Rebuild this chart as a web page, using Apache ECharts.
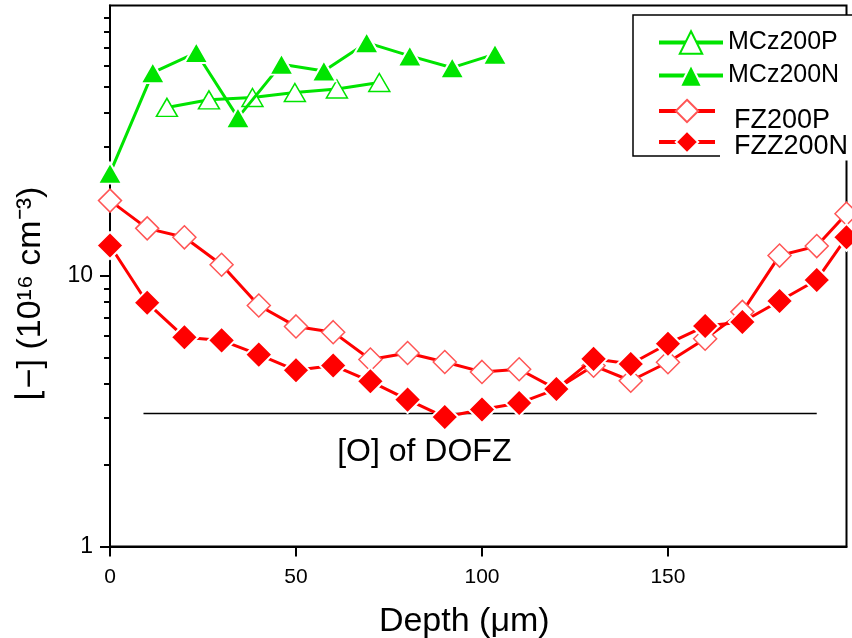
<!DOCTYPE html>
<html><head><meta charset="utf-8">
<script src="https://cdn.jsdelivr.net/npm/echarts@6/dist/echarts.min.js"></script>
<style>html,body{margin:0;padding:0;background:#fff}#c{width:852px;height:638px}</style>
</head><body><div id="c"></div>
<script>
// ---- data ----
const mczPDepth = [15.3, 26.6, 38.3, 49.7, 61.0, 72.4];
const mczPConc  = [42.0, 44.8, 45.7, 47.7, 49.1, 51.9];
const mczNDepth = [0, 11.5, 23.2, 34.4, 46.1, 57.5, 69.0, 80.6, 92.0, 103.5];
const mczNConc  = [24.0, 56.5, 67.0, 38.5, 60.7, 57.3, 72.9, 65.1, 58.9, 66.1];
const fzDepth   = [0, 10, 20, 30, 40, 50, 60, 70, 80, 90, 100, 110, 120, 130, 140, 150, 160, 170, 180, 190, 198];
const fz200P    = [19.0, 15.0, 13.9, 11.0, 7.78, 6.51, 6.20, 4.91, 5.19, 4.81, 4.42, 4.52, 3.82, 4.66, 4.10, 4.80, 5.86, 7.37, 11.9, 12.9, 17.0];
const fzz200N   = [12.96, 7.96, 5.94, 5.78, 5.12, 4.48, 4.67, 4.08, 3.49, 3.01, 3.21, 3.39, 3.82, 4.94, 4.73, 5.62, 6.53, 6.76, 8.08, 9.67, 13.9];
const dofzDepth = [9, 190];
const dofzLevel = 3.1;
const dofzLabelDepth = 84.5;
const xTickValues = [0, 50, 100, 150];
const yMajorTicks = [1, 10];
const yMinorTicks = [2, 3, 4, 5, 6, 7, 8, 9, 20, 30, 40, 50, 60, 70, 80, 90];
const seriesNames = ['MCz200P', 'MCz200N', 'FZ200P', 'FZZ200N'];

const zip = (a, b) => a.map((v, i) => [v, b[i]]);
const FONT = '"Liberation Sans", Arial, sans-serif';
const GREEN = '#00e400', RED = '#ff0000';

const fzText = (spacer) => ({
  fontSize: 27, color: '#000', fontFamily: FONT,
  rich: {
    s: { fontSize: 8, lineHeight: spacer },
    t: { fontSize: 27, lineHeight: 28, color: '#000', fontFamily: FONT, backgroundColor: '#fff', padding: [0, 8, 0, 14] }
  }
});

const chart = echarts.init(document.getElementById('c'));
chart.setOption({
  animation: false,
  backgroundColor: '#fff',
  grid: { left: 110, right: 5.5, top: 5.5, bottom: 91.5, show: true, borderColor: '#000', borderWidth: 2, outerBoundsMode: 'none', containLabel: false },
  xAxis: {
    type: 'value', min: 0, max: 198, interval: 50,
    axisLine: { lineStyle: { color: '#000', width: 2 } },
    axisTick: { customValues: xTickValues, length: 10, lineStyle: { color: '#000', width: 2 } },
    axisLabel: { customValues: xTickValues, margin: 20, fontSize: 21, color: '#000', fontFamily: FONT },
    splitLine: { show: false },
    name: 'Depth (μm)', nameLocation: 'middle', nameGap: 58,
    nameTextStyle: { fontSize: 34, color: '#000', fontFamily: FONT, padding: [0, 28, 0, 0] }
  },
  yAxis: [{
    type: 'log', logBase: 10, min: 1, max: 100,
    axisLine: { lineStyle: { color: '#000', width: 2 } },
    axisTick: { customValues: yMajorTicks, length: 10, lineStyle: { color: '#000', width: 2 } },
    axisLabel: { customValues: yMajorTicks, margin: 17, fontSize: 23, color: '#000', fontFamily: FONT },
    splitLine: { show: false },
    name: '⌊−] (10¹⁶ cm⁻³)', nameLocation: 'middle', nameGap: 62,
    nameTextStyle: { fontSize: 34, color: '#000', fontFamily: FONT, padding: [0, 36, 0, 0] }
  }, {
    type: 'log', logBase: 10, min: 1, max: 100, position: 'left',
    axisLine: { show: false },
    axisTick: { customValues: yMinorTicks, length: 6, lineStyle: { color: '#000', width: 2 } },
    axisLabel: { show: false },
    splitLine: { show: false }
  }],
  legend: [{
    data: [seriesNames[0], seriesNames[1]], orient: 'vertical', left: 657, top: 30, padding: 0,
    itemWidth: 64, itemHeight: 28, itemGap: 8, selectedMode: false, z: 20,
    lineStyle: { width: 4 },
    textStyle: { fontSize: 25, color: '#000', fontFamily: FONT }
  }, {
    data: [seriesNames[2]], orient: 'vertical', left: 657, top: 93, padding: 0,
    itemWidth: 56, itemHeight: 28, selectedMode: false, z: 20,
    lineStyle: { width: 4 },
    formatter: '{s| }\n{t|{name}}',
    textStyle: fzText(20)
  }, {
    data: [seriesNames[3]], orient: 'vertical', left: 657, top: 124, padding: 0,
    itemWidth: 56, itemHeight: 28, selectedMode: false, z: 21,
    lineStyle: { width: 4 },
    formatter: '{s| }\n{t|{name}}',
    textStyle: fzText(10)
  }],
  graphic: [{
    type: 'rect', z: 10, shape: { x: 633, y: 15, width: 240, height: 141 },
    style: { fill: '#fff', stroke: '#000', lineWidth: 1.5 }
  }],
  series: [{
    name: seriesNames[0], type: 'line', data: zip(mczPDepth, mczPConc), z: 3,
    symbol: 'triangle', symbolSize: [21, 18], showAllSymbol: true,
    itemStyle: { color: '#fff', borderColor: GREEN, borderWidth: 1.5 },
    lineStyle: { color: GREEN, width: 3 }, emphasis: { disabled: true }
  }, {
    name: seriesNames[1], type: 'line', data: zip(mczNDepth, mczNConc), z: 4,
    symbol: 'triangle', symbolSize: [24, 21], showAllSymbol: true,
    itemStyle: { color: GREEN, borderColor: '#fff', borderWidth: 2 },
    lineStyle: { color: GREEN, width: 3 }, emphasis: { disabled: true }
  }, {
    name: seriesNames[2], type: 'line', data: zip(fzDepth, fz200P), z: 3,
    symbol: 'diamond', symbolSize: 23, showAllSymbol: true,
    itemStyle: { color: '#fff', borderColor: '#ff5555', borderWidth: 1.5 },
    lineStyle: { color: RED, width: 3 }, emphasis: { disabled: true }
  }, {
    name: seriesNames[3], type: 'line', data: zip(fzDepth, fzz200N), z: 4,
    symbol: 'diamond', symbolSize: 27, showAllSymbol: true,
    itemStyle: { color: RED, borderColor: '#fff', borderWidth: 2 },
    lineStyle: { color: RED, width: 3 }, emphasis: { disabled: true }
  }, {
    type: 'line', data: dofzDepth.map(d => [d, dofzLevel]), symbol: 'none', z: 2,
    lineStyle: { color: '#000', width: 1.5 }, silent: true
  }, {
    type: 'scatter', data: [[dofzLabelDepth, dofzLevel]], symbolSize: 1, silent: true,
    itemStyle: { color: 'rgba(0,0,0,0)', opacity: 1 },
    label: { show: true, position: 'bottom', distance: 22, formatter: '[O] of DOFZ',
      fontSize: 32, color: '#000', opacity: 1, fontFamily: FONT }
  }]
});
</script></body></html>
